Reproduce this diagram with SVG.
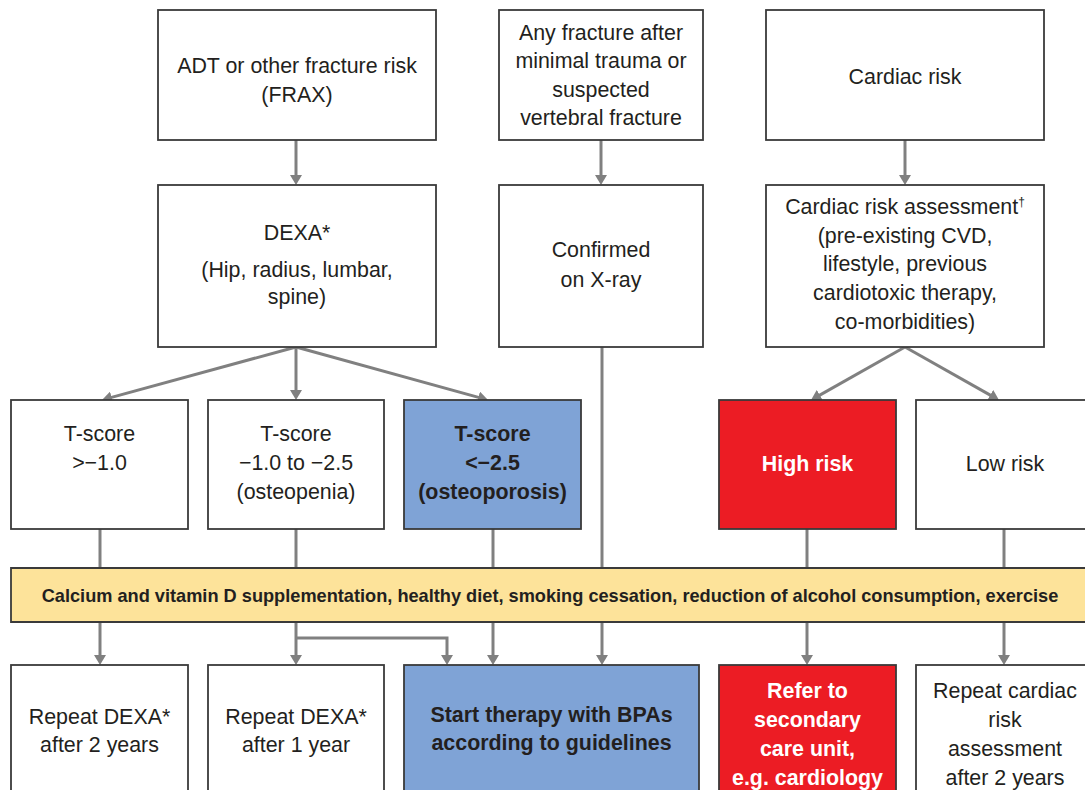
<svg xmlns="http://www.w3.org/2000/svg" width="1085" height="790" viewBox="0 0 1085 790">
<defs>
<marker id="ah" markerUnits="userSpaceOnUse" markerWidth="10" markerHeight="12" refX="2" refY="6" orient="auto">
<path d="M0,0 L10,6 L0,12 z" fill="#808080"/>
</marker>
<style>
.box{fill:#fff;stroke:#3a3a3a;stroke-width:1.8}
.blue{fill:#7fa3d6;stroke:#3a3a3a;stroke-width:1.8}
.red{fill:#ec1c24;stroke:#3a3a3a;stroke-width:1.8}
.yel{fill:#fde39a}
.edge{fill:none;stroke:#3a3a3a;stroke-width:1.8}
.t{font-family:"Liberation Sans",Arial,sans-serif;font-size:21.4px;fill:#231f20;text-anchor:middle}
.b{font-weight:bold}
.w{fill:#fff}
.band{font-size:18.2px}
.c{fill:none;stroke:#808080;stroke-width:3}
.a{marker-end:url(#ah)}
</style>
</defs>
<rect width="1085" height="790" fill="#fff"/>

<g id="connectors">
<path class="c a" d="M296,140 V177"/>
<path class="c a" d="M601,140 V177"/>
<path class="c a" d="M905,140 V177"/>
<path class="c a" d="M296,347 L109.7,397.9"/>
<path class="c a" d="M296,347 V392"/>
<path class="c a" d="M296,347 L480.3,397.9"/>
<path class="c a" d="M905,347 L818,396.1"/>
<path class="c a" d="M905,347 L992,396.1"/>
<path class="c" d="M100,529 V568"/>
<path class="c" d="M296,529 V568"/>
<path class="c" d="M493,529 V568"/>
<path class="c" d="M602,347 V568"/>
<path class="c" d="M807,529 V568"/>
<path class="c" d="M1004,529 V568"/>
<path class="c a" d="M100,622 V657"/>
<path class="c a" d="M296,622 V657"/>
<path class="c a" d="M296,638 H447 V657"/>
<path class="c a" d="M493,622 V657"/>
<path class="c a" d="M602,622 V657"/>
<path class="c a" d="M807,622 V657"/>
<path class="c a" d="M1004,622 V657"/>
</g>

<g id="adt">
<rect class="box" x="158" y="10" width="278" height="130"/>
<text class="t" x="297" y="73">ADT or other fracture risk</text>
<text class="t" x="297" y="102">(FRAX)</text>
</g>
<g id="fracture">
<rect class="box" x="499" y="10" width="204" height="130"/>
<text class="t" x="601" y="40">Any fracture after</text>
<text class="t" x="601" y="68">minimal trauma or</text>
<text class="t" x="601" y="97">suspected</text>
<text class="t" x="601" y="125">vertebral fracture</text>
</g>
<g id="cardiac">
<rect class="box" x="766" y="10" width="278" height="130"/>
<text class="t" x="905" y="84">Cardiac risk</text>
</g>

<g id="dexa">
<rect class="box" x="158" y="185" width="278" height="162"/>
<text class="t" x="297" y="240">DEXA*</text>
<text class="t" x="297" y="277">(Hip, radius, lumbar,</text>
<text class="t" x="297" y="304">spine)</text>
</g>
<g id="xray">
<rect class="box" x="499" y="185" width="204" height="162"/>
<text class="t" x="601" y="257">Confirmed</text>
<text class="t" x="601" y="287">on X-ray</text>
</g>
<g id="assessment">
<rect class="box" x="766" y="185" width="278" height="162"/>
<text class="t" x="905" y="214">Cardiac risk assessment<tspan style="font-size:12px" dy="-8">†</tspan></text>
<text class="t" x="905" y="243">(pre-existing CVD,</text>
<text class="t" x="905" y="271">lifestyle, previous</text>
<text class="t" x="905" y="300">cardiotoxic therapy,</text>
<text class="t" x="905" y="329">co-morbidities)</text>
</g>

<g id="tscore1">
<rect class="box" x="11" y="400" width="177" height="129"/>
<text class="t" x="99.5" y="441">T-score</text>
<text class="t" x="99.5" y="470">&gt;−1.0</text>
</g>
<g id="tscore2">
<rect class="box" x="208" y="400" width="176" height="129"/>
<text class="t" x="296" y="441">T-score</text>
<text class="t" x="296" y="470">−1.0 to −2.5</text>
<text class="t" x="296" y="499">(osteopenia)</text>
</g>
<g id="tscore3">
<rect class="blue" x="404" y="400" width="177" height="129"/>
<text class="t b" x="492.5" y="441">T-score</text>
<text class="t b" x="492.5" y="470">&lt;−2.5</text>
<text class="t b" x="492.5" y="499">(osteoporosis)</text>
</g>
<g id="highrisk">
<rect class="red" x="719" y="400" width="177" height="129"/>
<text class="t b w" x="807.5" y="471">High risk</text>
</g>
<g id="lowrisk">
<rect class="box" x="916" y="400" width="177" height="129"/>
<text class="t" x="1005" y="471">Low risk</text>
</g>

<g id="lifestyle">
<rect class="yel" x="11" y="568" width="1074" height="54"/>
<path class="edge" d="M1085,568 H11 V622 H1085"/>
<text class="t b band" x="550" y="601.5">Calcium and vitamin D supplementation, healthy diet, smoking cessation, reduction of alcohol consumption, exercise</text>
</g>

<g id="repeat2">
<rect class="box" x="11" y="665" width="177" height="135"/>
<text class="t" x="99.5" y="724">Repeat DEXA*</text>
<text class="t" x="99.5" y="752">after 2 years</text>
</g>
<g id="repeat1">
<rect class="box" x="208" y="665" width="176" height="135"/>
<text class="t" x="296" y="724">Repeat DEXA*</text>
<text class="t" x="296" y="752">after 1 year</text>
</g>
<g id="therapy">
<rect class="blue" x="404" y="665" width="295" height="135"/>
<text class="t b" x="551.5" y="722">Start therapy with BPAs</text>
<text class="t b" x="551.5" y="750">according to guidelines</text>
</g>
<g id="refer">
<rect class="red" x="719" y="665" width="177" height="135"/>
<text class="t b w" x="807.5" y="698">Refer to</text>
<text class="t b w" x="807.5" y="727">secondary</text>
<text class="t b w" x="807.5" y="756">care unit,</text>
<text class="t b w" x="807.5" y="785">e.g. cardiology</text>
</g>
<g id="repeatcardiac">
<rect class="box" x="916" y="665" width="177" height="135"/>
<text class="t" x="1005" y="698">Repeat cardiac</text>
<text class="t" x="1005" y="727">risk</text>
<text class="t" x="1005" y="756">assessment</text>
<text class="t" x="1005" y="785">after 2 years</text>
</g>
</svg>
